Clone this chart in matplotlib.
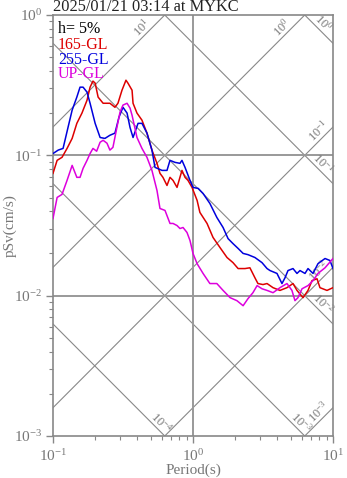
import numpy as np
import matplotlib
matplotlib.use("Agg")
import matplotlib.pyplot as plt
from matplotlib.ticker import LogLocator, NullFormatter

# ---------------- data ----------------
title = "2025/01/21 03:14 at MYKC"
damping_label = "h= 5%"
series_names = ["165-GL", "255-GL", "UP-GL"]
series_colors = ["#dd0000", "#0000dd", "#dd00dd"]

period_165 = [0.1, 0.107, 0.116, 0.126, 0.137, 0.148, 0.161, 0.175, 0.184, 0.193,
              0.200, 0.210, 0.228, 0.255, 0.277, 0.291, 0.311, 0.332, 0.343, 0.367,
              0.373, 0.398, 0.432, 0.469, 0.509, 0.553, 0.581, 0.610, 0.652, 0.685,
              0.720, 0.769, 0.834, 0.877, 0.921, 0.984, 1.07, 1.12, 1.26, 1.39,
              1.56, 1.75, 1.93, 2.10, 2.35, 2.55, 2.77, 2.91, 3.16, 3.38,
              3.73, 4.18, 4.69, 5.18, 5.53, 6.11, 6.63, 7.08, 7.69, 8.07,
              9.06, 10.0]
psv_165 = [0.0744, 0.0921, 0.0968, 0.112, 0.132, 0.169, 0.200, 0.247, 0.306, 0.338,
           0.327, 0.260, 0.235, 0.235, 0.220, 0.235, 0.291, 0.343, 0.327, 0.291,
           0.235, 0.200, 0.178, 0.144, 0.109, 0.0877, 0.0744, 0.0697, 0.061, 0.0697,
           0.0663, 0.0591, 0.0781, 0.0697, 0.0663, 0.0591, 0.0477, 0.0392, 0.0327, 0.0260,
           0.0220, 0.0187, 0.0172, 0.0156, 0.0156, 0.0158, 0.0134, 0.0122, 0.0120, 0.0122,
           0.0114, 0.0109, 0.0114, 0.0122, 0.0109, 0.00968, 0.0109, 0.0128, 0.0132, 0.0114,
           0.0109, 0.0114]

period_255 = [0.1, 0.109, 0.118, 0.128, 0.137, 0.148, 0.156, 0.164, 0.175, 0.184,
              0.200, 0.217, 0.235, 0.255, 0.277, 0.296, 0.316, 0.338, 0.355, 0.373,
              0.405, 0.432, 0.469, 0.509, 0.535, 0.601, 0.652, 0.685, 0.744, 0.807,
              0.834, 0.877, 0.952, 1.0, 1.09, 1.18, 1.32, 1.48, 1.64, 1.78,
              1.93, 2.10, 2.28, 2.47, 2.77, 3.11, 3.38, 3.55, 3.98, 4.32,
              4.54, 4.77, 5.18, 5.53, 5.81, 6.31, 6.63, 7.20, 7.81, 8.77,
              9.52, 10.0]
psv_255 = [0.103, 0.109, 0.112, 0.158, 0.210, 0.260, 0.306, 0.306, 0.282, 0.235,
           0.169, 0.134, 0.132, 0.139, 0.144, 0.187, 0.220, 0.200, 0.158, 0.134,
           0.169, 0.169, 0.144, 0.109, 0.0821, 0.0781, 0.0781, 0.0921, 0.0891, 0.0877,
           0.0921, 0.0821, 0.0663, 0.0591, 0.0581, 0.0535, 0.0454, 0.0361, 0.0306, 0.0255,
           0.0235, 0.0217, 0.0200, 0.0196, 0.0187, 0.0172, 0.0156, 0.0151, 0.0144, 0.0122,
           0.0134, 0.0151, 0.0156, 0.0144, 0.0151, 0.0144, 0.0156, 0.0144, 0.0169, 0.0184,
           0.0178, 0.0156]

period_up = [0.1, 0.107, 0.116, 0.126, 0.137, 0.148, 0.156, 0.164, 0.175, 0.184,
             0.193, 0.205, 0.217, 0.228, 0.243, 0.255, 0.268, 0.286, 0.301, 0.316,
             0.338, 0.355, 0.367, 0.398, 0.432, 0.469, 0.509, 0.553, 0.581, 0.631,
             0.685, 0.720, 0.769, 0.807, 0.849, 0.906, 0.952, 1.0, 1.07, 1.18,
             1.32, 1.48, 1.64, 1.84, 2.06, 2.28, 2.47, 2.68, 2.87, 3.11,
             3.38, 3.73, 4.18, 4.69, 5.09, 5.35, 5.62, 6.01, 6.63, 7.20,
             7.81, 8.77, 10.0]
psv_up = [0.0355, 0.0501, 0.0527, 0.0663, 0.0848, 0.0697, 0.0697, 0.0808, 0.0921, 0.103,
          0.112, 0.107, 0.124, 0.128, 0.122, 0.109, 0.114, 0.158, 0.203, 0.228,
          0.235, 0.217, 0.193, 0.134, 0.112, 0.0968, 0.0781, 0.0562, 0.0418, 0.0405,
          0.0327, 0.0327, 0.0316, 0.0301, 0.0306, 0.0282, 0.0247, 0.0200, 0.0169, 0.0144,
          0.0122, 0.0122, 0.0109, 0.00968, 0.00921, 0.00848, 0.00952, 0.0105, 0.0118, 0.0112,
          0.0109, 0.0105, 0.0114, 0.0122, 0.0109, 0.00921, 0.00968, 0.0112, 0.0118, 0.0128,
          0.0144, 0.0158, 0.0184]

acc_exponents = [1, 0, -1, -2, -3]      # pSa lines (cm/s^2)
disp_exponents = [0, -1, -2, -3, -4]    # Sd lines (cm)

# ---------------- style ----------------
plt.rcParams["font.family"] = ["Liberation Serif", "DejaVu Serif"]
plt.rcParams["mathtext.fontset"] = "custom"
plt.rcParams["mathtext.rm"] = "Liberation Serif"
plt.rcParams["mathtext.it"] = "Liberation Serif:italic"
plt.rcParams["mathtext.bf"] = "Liberation Serif:bold"

GRAY = "#777777"
LINEGRAY = "#888888"

fig = plt.figure(figsize=(3.47, 4.78), dpi=100)
ax = fig.add_axes([53 / 347, 1 - 436 / 478, 280 / 347, 421 / 478])
ax.set_xscale("log")
ax.set_yscale("log")
ax.set_xlim(0.1, 10)
ax.set_ylim(1e-3, 1)

T = np.logspace(-1, 1, 400)
twopi = 2 * np.pi

# tripartite lines
for k in acc_exponents:
    a = 10.0 ** k
    ax.plot(T, a * T / twopi, color=LINEGRAY, lw=0.8, zorder=1)
    tl = min(twopi * 0.75 / a, 8.6)
    ax.text(tl, a * tl / twopi, r"$10^{%d}$" % k, rotation=45, rotation_mode="anchor",
            ha="center", va="bottom", color=GRAY, fontsize=9, zorder=2)
for k in disp_exponents:
    d = 10.0 ** k
    ax.plot(T, twopi * d / T, color=LINEGRAY, lw=0.8, zorder=1)
    tl = min(twopi * d / 0.00115, 7.8)
    ax.text(tl, twopi * d / tl, r"$10^{%d}$" % k, rotation=-45, rotation_mode="anchor",
            ha="center", va="bottom", color=GRAY, fontsize=9, zorder=2)

# grid
ax.axvline(1.0, color="#999999", lw=1.4, zorder=1)
for yv in (0.1, 0.01):
    ax.axhline(yv, color="#999999", lw=1.4, zorder=1)

# series
series = [(period_165, psv_165), (period_255, psv_255), (period_up, psv_up)]
for (p, v), c in zip(series, series_colors):
    ax.plot(p, v, color=c, lw=1.1, zorder=3)

# legend text
ax.text(0.018, 0.967, damping_label, transform=ax.transAxes, color="black",
        fontsize=11.5, va="center", ha="left")
for i, (name, c) in enumerate(zip(series_names, series_colors)):
    ax.text(0.018, 0.929 - 0.035 * i, name, transform=ax.transAxes, color=c,
            fontsize=11.5, va="center", ha="left")

# axes styling
for s in ax.spines.values():
    s.set_color("#888888")
    s.set_linewidth(1.2)
ax.xaxis.set_major_locator(LogLocator(base=10, numticks=10))
ax.yaxis.set_major_locator(LogLocator(base=10, numticks=10))
ax.xaxis.set_minor_locator(LogLocator(base=10, subs=np.arange(2, 10), numticks=20))
ax.yaxis.set_minor_locator(LogLocator(base=10, subs=np.arange(2, 10), numticks=20))
ax.xaxis.set_minor_formatter(NullFormatter())
ax.yaxis.set_minor_formatter(NullFormatter())
ax.tick_params(which="major", length=5, width=1, color="#888888", labelcolor=GRAY,
               labelsize=11, direction="out")
ax.tick_params(which="minor", length=3, width=0.8, color="#888888", direction="out")
ax.tick_params(axis="x", pad=4)
ax.tick_params(axis="y", pad=3)

ax.set_xlabel("Period(s)", color=GRAY, fontsize=11)
ax.xaxis.set_label_coords(0.5, -0.065)
ax.set_ylabel("pSv(cm/s)", color=GRAY, fontsize=11)
ax.yaxis.set_label_coords(-0.13, 0.5)

fig.text(53 / 347, 1.002, title, ha="left", va="top", fontsize=11.8, color="#222222")

fig.savefig("out.png", dpi=100)
